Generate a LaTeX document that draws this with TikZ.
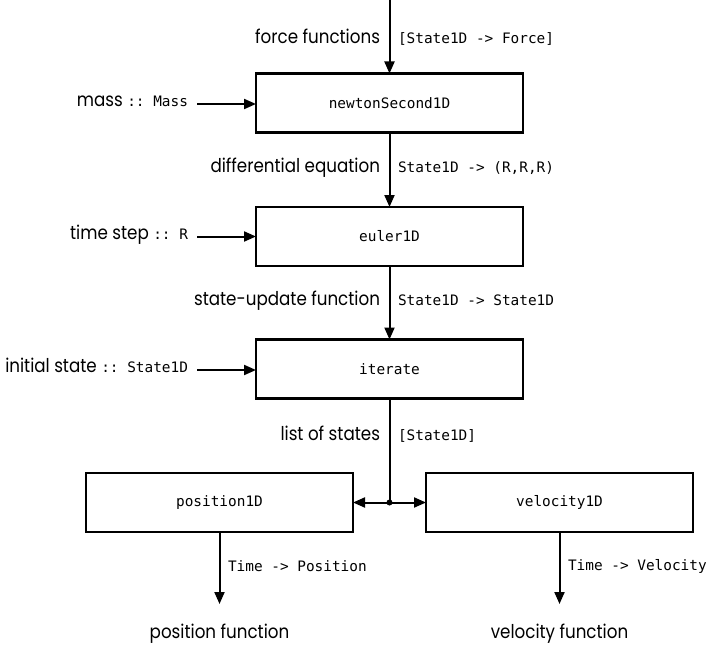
\documentclass[tikz,border=0pt]{standalone}
\usepackage{fontspec}
\setmainfont{Poppins}[FakeStretch=0.88]
\setmonofont{DejaVu Sans Mono}
\usetikzlibrary{arrows.meta}
\newcommand\mytt[1]{{\fontsize{14.4}{16}\ttfamily #1}}
\begin{document}
\begin{tikzpicture}[x=1pt,y=-1pt,
  every node/.style={inner sep=0pt,outer sep=0pt},
  fbox/.style={draw,line width=2.4pt,minimum width=267pt,minimum height=59pt,font=\fontsize{14.4}{16}\ttfamily},
  lab/.style={font=\fontsize{19}{22}\selectfont},
  mono/.style={font=\fontsize{14.4}{16}\ttfamily},
  conn/.style={line width=2pt,-{Triangle[length=12pt,width=10pt]}},
  plain/.style={line width=2pt}]
\useasboundingbox (0,0) rectangle (708,647);
\fill[white] (0,0) rectangle (708,647);
% boxes
\node[fbox] (newton) at (389.5,103) {newtonSecond1D};
\node[fbox] (euler) at (389.5,236.5) {euler1D};
\node[fbox] (iter) at (389.5,369) {iterate};
\node[fbox] (pos) at (219.5,502.5) {position1D};
\node[fbox] (vel) at (559.5,502.5) {velocity1D};
% top input
\coordinate (top) at (389.5,0);
\draw[conn] (top) -- (newton.north);
\node[lab,anchor=mid east] (ffl) at (380,41) {force functions};
\node[mono,anchor=mid west] (fft) at (398,41) {[State1D -> Force]};
% mass
\node[lab,anchor=mid east] (massL) at (188,104) {mass \mytt{:: Mass}};
\draw[conn,shorten <=9pt] (massL.mid east) -- (massL.mid east -| newton.west);
% newton -> euler
\draw[conn] (newton.south) -- (euler.north);
\node[lab,anchor=mid east] (del) at (380,170) {differential equation};
\node[mono,anchor=mid west] (det) at (398,170) {State1D -> (R,R,R)};
% time step
\node[lab,anchor=mid east] (tsL) at (188,236.5) {time step \mytt{:: R}};
\draw[conn,shorten <=9pt] (tsL.mid east) -- (tsL.mid east -| euler.west);
% euler -> iterate
\draw[conn] (euler.south) -- (iter.north);
\node[lab,anchor=mid east] (sul) at (380,302.5) {state-update function};
\node[mono,anchor=mid west] (sut) at (398,302.5) {State1D -> State1D};
% initial state
\node[lab,anchor=mid east] (isL) at (188,370) {initial state \mytt{:: State1D}};
\draw[conn,shorten <=9pt] (isL.mid east) -- (isL.mid east -| iter.west);
% iterate -> split
\coordinate (j) at (389.5,502.5);
\draw[plain] (iter.south) -- (j);
\fill (j) circle (3pt);
\node[lab,anchor=mid east] (lsl) at (380,438) {list of states};
\node[mono,anchor=mid west] (lst) at (398,438) {[State1D]};
\draw[conn] (j) -- (pos.east);
\draw[conn] (j) -- (vel.west);
% outputs
\coordinate (pe) at (219.5,604);
\coordinate (ve) at (559.5,604);
\draw[conn] (pos.south) -- (pe);
\draw[conn] (vel.south) -- (ve);
\node[mono,anchor=mid west] (ptt) at (228,569) {Time -> Position};
\node[mono,anchor=mid west] (vtt) at (568,568) {Time -> Velocity};
\node[lab] (pf) at (219.5,634) {position function};
\node[lab] (vf) at (559.5,634) {velocity function};
\end{tikzpicture}
\end{document}
